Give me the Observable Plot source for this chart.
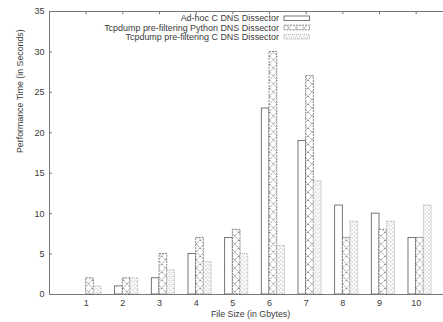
<!DOCTYPE html>
<html>
<head>
<meta charset="utf-8">
<script src="https://cdn.jsdelivr.net/npm/d3@7"></script>
<script src="https://cdn.jsdelivr.net/npm/@observablehq/plot@0.6"></script>
<style>
  html, body { margin: 0; padding: 0; background: #fff; }
  #chart { position: relative; width: 443px; height: 322px; overflow: hidden; }
</style>
</head>
<body>
<svg width="0" height="0" style="position:absolute">
  <defs>
    <pattern id="patPy" patternUnits="userSpaceOnUse" width="7.7" height="8">
      <rect width="7.7" height="8" fill="#fff"/>
      <path d="M0,0 L7.7,8 M7.7,0 L0,8" stroke="#777" stroke-width="0.8" stroke-dasharray="1.4,0.8" fill="none"/>
    </pattern>
    <pattern id="patC" patternUnits="userSpaceOnUse" width="3.85" height="4">
      <rect width="3.85" height="4" fill="#fff"/>
      <path d="M0,0 L3.85,4 M3.85,0 L0,4" stroke="#bbb" stroke-width="0.7" stroke-dasharray="1,0.7" fill="none"/>
    </pattern>
  </defs>
</svg>
<div id="chart"></div>
<script>
// ---- data ----
const fileSizes = [1, 2, 3, 4, 5, 6, 7, 8, 9, 10];
const seriesNames = [
  "Ad-hoc C DNS Dissector",
  "Tcpdump pre-filtering Python DNS Dissector",
  "Tcpdump pre-filtering C DNS Dissector"
];
const adhocC   = [0, 1, 2, 5, 7, 23, 19, 11, 10, 7];
const tcpdumpPy = [2, 2, 5, 7, 8, 30, 27, 7, 8, 7];
const tcpdumpC  = [1, 2, 3, 4, 5, 6, 14, 9, 9, 11];
const yTicks = [0, 5, 10, 15, 20, 25, 30, 35];

// ---- styles per series ----
const barW = 0.21;
const styles = [
  {values: adhocC,    off: -barW,   fill: "#fff",          stroke: "#555", dash: null},
  {values: tcpdumpPy, off: 0,       fill: "url(#patPy)",   stroke: "#666", dash: "2,1"},
  {values: tcpdumpC,  off: barW,    fill: "url(#patC)",    stroke: "#999", dash: "1,1"}
];

const rows = [];
styles.forEach((s, si) => {
  fileSizes.forEach((f, i) => rows.push({series: seriesNames[si], si, size: f, value: s.values[i]}));
});

const axisColor = "#777";
const textColor = "#3a3a3a";
const fontFam = "'Liberation Sans', Arial, sans-serif";

const barMarks = styles.map((s, si) =>
  Plot.rect(rows.filter(r => r.si === si && r.value > 0), {
    x1: d => d.size + s.off,
    x2: d => d.size + s.off + barW,
    y1: 0,
    y2: "value",
    fill: s.fill,
    stroke: s.stroke,
    strokeWidth: 0.8,
    strokeDasharray: s.dash
  })
);

const chart = Plot.plot({
  width: 443,
  height: 322,
  marginLeft: 49,
  marginRight: 0,
  marginTop: 11,
  marginBottom: 28,
  style: {fontFamily: fontFam, fontSize: "9px", color: textColor, background: "#fff"},
  x: {type: "linear", domain: [0, 10.745]},
  y: {domain: [0, 35]},
  marks: [
    ...barMarks,
    // frame
    Plot.ruleX([0], {stroke: axisColor, strokeWidth: 1}),
    Plot.ruleY([0, 35], {stroke: axisColor, strokeWidth: 1}),
    // inward ticks
    Plot.ruleY(yTicks.slice(1, -1), {x1: 0, x2: 0.08, stroke: axisColor}),
    Plot.ruleX(fileSizes, {y1: 35, y2: 34.6, stroke: axisColor}),
    Plot.axisY({ticks: yTicks, tickSize: 0, tickPadding: 5, label: null, fill: textColor, fontSize: 9}),
    Plot.axisX({ticks: fileSizes, tickSize: 0, tickPadding: 5, label: null, fill: textColor, fontSize: 9}),
    Plot.text(["File Size (in Gbytes)"], {frameAnchor: "bottom", dy: 22, dx: 4, fill: textColor, fontSize: 8.8}),
    Plot.text(["Performance Time (in Seconds)"], {frameAnchor: "left", rotate: -90, dx: -29, fill: textColor, fontSize: 8.8})
  ]
});
document.getElementById("chart").appendChild(chart);

// ---- legend (inside the plot, top) ----
const svg = d3.select(chart);
const lg = svg.append("g").attr("font-family", fontFam).attr("font-size", 8.95);
const rowY = [18.3, 27.5, 36.7];
styles.forEach((s, i) => {
  lg.append("text")
    .attr("x", 279).attr("y", rowY[i])
    .attr("text-anchor", "end").attr("dominant-baseline", "central")
    .attr("fill", textColor)
    .text(seriesNames[i]);
  lg.append("rect")
    .attr("x", 284).attr("y", rowY[i] - 2.3)
    .attr("width", 25.5).attr("height", 4.6)
    .attr("fill", s.fill).attr("stroke", s.stroke)
    .attr("stroke-width", 0.8)
    .attr("stroke-dasharray", s.dash);
});
</script>
</body>
</html>
